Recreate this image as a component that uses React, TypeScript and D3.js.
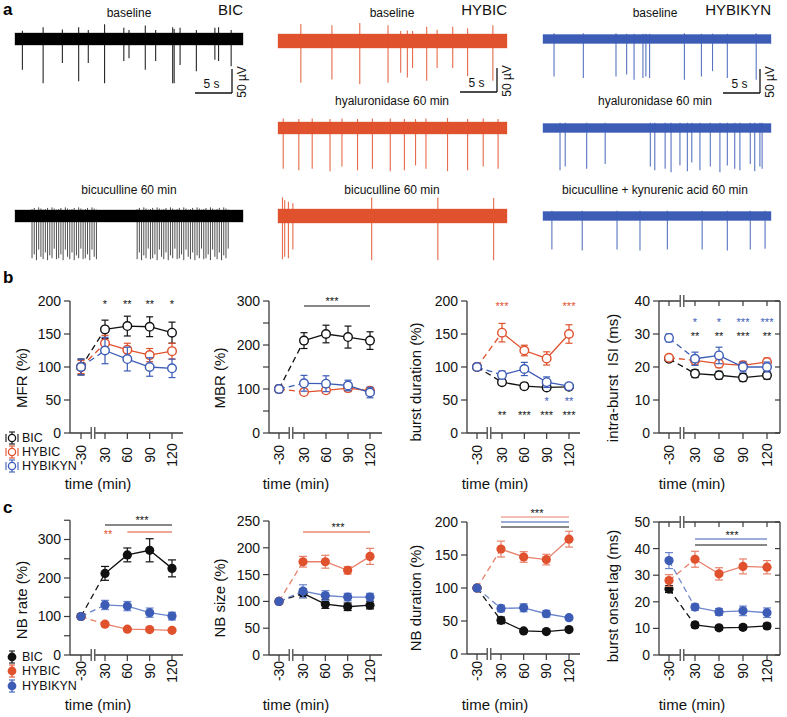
import React from 'react';
import * as d3 from 'd3';

const FONT = '"Liberation Sans", Arial, Helvetica, sans-serif';
const BLACK = '#111111';
const ORANGE = '#E0512D';
const ORANGE_LIGHT = '#E8806A';
const BLUE = '#3C5CB6';
const BLUE_LIGHT = '#6C86CC';
const AXIS = '#3a3a3a';

// ---------- shared x categories ----------
const times = [-30, 30, 60, 90, 120];
const timeTickLabels = ['-30', '30', '60', '90', '120'];
const groupNames = ['BIC', 'HYBIC', 'HYBIKYN'];

// ---------- panel b data ----------
const mfrBIC = [100, 157, 162, 161, 152];
const mfrBICErr = [12, 14, 15, 15, 16];
const mfrHYBIC = [100, 136, 126, 118, 124];
const mfrHYBICErr = [10, 12, 10, 10, 12];
const mfrKYN = [100, 125, 112, 100, 98];
const mfrKYNErr = [12, 20, 18, 14, 14];

const mbrBIC = [100, 210, 225, 218, 210];
const mbrBICErr = [8, 18, 20, 25, 20];
const mbrHYBIC = [100, 93, 97, 102, 96];
const mbrHYBICErr = [6, 5, 6, 8, 6];
const mbrKYN = [100, 113, 112, 108, 92];
const mbrKYNErr = [8, 18, 18, 12, 12];

const bdBIC = [100, 77, 71, 69, 70];
const bdBICErr = [4, 4, 5, 4, 3];
const bdHYBIC = [100, 152, 125, 113, 150];
const bdHYBICErr = [4, 14, 8, 10, 14];
const bdKYN = [100, 88, 97, 77, 71];
const bdKYNErr = [4, 6, 10, 8, 4];

const isiBIC = [22.5, 18, 17.5, 16.8, 17.5];
const isiBICErr = [0.8, 1.2, 1.2, 1.2, 1.2];
const isiHYBIC = [22.8, 22, 21, 20.5, 21.5];
const isiHYBICErr = [0.8, 1.3, 1.2, 1.2, 1.2];
const isiKYN = [28.8, 22.5, 23.5, 20, 20];
const isiKYNErr = [1.2, 2, 2.5, 1.5, 1.5];

// ---------- panel c data ----------
const nbrBIC = [100, 212, 260, 272, 225];
const nbrBICErr = [4, 18, 18, 30, 22];
const nbrHYBIC = [100, 80, 67, 66, 64];
const nbrHYBICErr = [3, 5, 4, 4, 4];
const nbrKYN = [100, 130, 127, 110, 101];
const nbrKYNErr = [4, 12, 12, 12, 10];

const nbsBIC = [100, 115, 95, 90, 93];
const nbsBICErr = [3, 8, 8, 7, 7];
const nbsHYBIC = [100, 174, 174, 158, 184];
const nbsHYBICErr = [3, 10, 12, 7, 15];
const nbsKYN = [100, 119, 111, 108, 108];
const nbsKYNErr = [3, 12, 9, 7, 7];

const nbdBIC = [100, 51, 35, 34, 37];
const nbdBICErr = [3, 5, 2, 2, 2];
const nbdHYBIC = [100, 159, 147, 143, 174];
const nbdHYBICErr = [3, 12, 8, 8, 12];
const nbdKYN = [100, 69, 70, 61, 55];
const nbdKYNErr = [3, 5, 6, 5, 3];

const bolBIC = [24.8, 11.3, 10.2, 10.4, 10.9];
const bolBICErr = [1.3, 1, 0.8, 0.8, 1];
const bolHYBIC = [28, 36, 30.5, 33.3, 33];
const bolHYBICErr = [2.2, 3, 2.3, 2.8, 2.5];
const bolKYN = [35.5, 18, 16.2, 16.6, 15.9];
const bolKYNErr = [3, 1.2, 1.3, 1.8, 1.8];

// ---------- panel a data: spikes [time s, downward µV, upward µV] ----------
const TRACE_SEC = 30.8;
const bicBaselineSpikes = [
  [1.0, 64, 8], [3.8, 92, 20], [6.4, 50, 12], [8.6, 88, 20], [9.9, 50, 10], [12.1, 92, 30],
  [14.7, 46, 18], [15.4, 40, 10], [17.6, 64, 26], [19.0, 46, 10], [21.3, 92, 20], [21.5, 92, 14],
  [22.3, 54, 18], [24.5, 67, 10], [27.0, 43, 18], [27.5, 46, 20], [29.2, 57, 10],
];
const bicBursts = [[2.3, 11.1], [16.5, 28.8]];
const burstDownPattern = [88, 80, 92, 70, 85, 90, 76, 92, 82, 88, 68, 90];
const burstUpPattern = [24, 28, 20, 30, 26, 22];
const hybicBaselineSpikes = [
  [3.07, 87, 35], [7.25, 80, 30], [11.0, 90, 38], [14.8, 87, 30], [16.5, 66, 10], [17.4, 76, 12],
  [18.1, 56, 10], [20.0, 83, 25], [21.4, 56, 15], [23.5, 56, 25], [25.5, 73, 20], [28.9, 83, 30],
];
const hybicHyalSpikes = [
  [0.7, 85, 12], [2.8, 88, 10], [4.6, 85, 12], [7.0, 90, 10], [8.6, 80, 12], [10.7, 88, 10],
  [12.7, 85, 12], [15.1, 90, 12], [17.0, 88, 10], [18.5, 78, 10], [19.9, 85, 12], [22.8, 90, 14],
  [25.5, 88, 10], [27.6, 80, 12], [29.6, 85, 10],
];
const hybicBicSpikes = [
  [0.6, 90, 40], [0.9, 85, 30], [1.4, 88, 25], [2.0, 70, 20], [12.6, 92, 40], [21.5, 92, 40], [29.0, 92, 38],
];
const kynBaselineSpikes = [
  [1.49, 78, 4], [5.45, 81, 4], [9.86, 78, 4], [11.3, 74, 3], [12.3, 85, 3], [13.5, 81, 3], [13.9, 78, 3],
  [14.4, 81, 3], [19.1, 85, 4], [21.4, 78, 3], [22.9, 67, 3], [24.9, 81, 3], [28.8, 85, 4],
];
const kynHyalSpikes = [
  [2.3, 88, 3], [3.0, 80, 3], [5.9, 85, 3], [8.4, 75, 3], [14.5, 80, 3], [15.1, 88, 3], [16.5, 85, 3],
  [17.3, 92, 3], [18.5, 78, 3], [19.5, 90, 3], [20.1, 72, 3], [21.2, 88, 3], [22.6, 80, 3], [23.9, 92, 3],
  [24.9, 78, 3], [25.9, 85, 3], [26.6, 88, 3], [28.0, 75, 3], [28.6, 90, 3], [29.3, 80, 3], [29.6, 85, 3],
];
const kynBicSpikes = [
  [1.2, 70, 3], [5.3, 72, 3], [10.0, 70, 3], [13.1, 72, 3], [16.8, 70, 3], [21.5, 70, 3], [24.9, 72, 3],
  [28.0, 70, 3], [30.0, 68, 3],
];

// ---------- trace layout ----------
const traces = [
  { x0: 15, x1: 243, yc: 39, half: 6, color: '#000', spikes: bicBaselineSpikes, bursts: [] },
  { x0: 15, x1: 243, yc: 216, half: 6, color: '#000', spikes: [], bursts: bicBursts },
  { x0: 278, x1: 507, yc: 41, half: 7, color: ORANGE, spikes: hybicBaselineSpikes, bursts: [] },
  { x0: 278, x1: 507, yc: 128, half: 6, color: ORANGE, spikes: hybicHyalSpikes, bursts: [] },
  { x0: 278, x1: 507, yc: 216, half: 7, color: ORANGE, spikes: hybicBicSpikes, bursts: [] },
  { x0: 543, x1: 771, yc: 39, half: 4.5, color: BLUE, spikes: kynBaselineSpikes, bursts: [] },
  { x0: 543, x1: 771, yc: 128, half: 4.5, color: BLUE, spikes: kynHyalSpikes, bursts: [] },
  { x0: 543, x1: 771, yc: 216, half: 4.5, color: BLUE, spikes: kynBicSpikes, bursts: [] },
];

const traceTexts = [
  { x: 129, y: 17, t: 'baseline' },
  { x: 392, y: 17, t: 'baseline' },
  { x: 655, y: 17, t: 'baseline' },
  { x: 392, y: 105, t: 'hyaluronidase 60 min' },
  { x: 655, y: 105, t: 'hyaluronidase 60 min' },
  { x: 129, y: 194, t: 'bicuculline 60 min' },
  { x: 392, y: 194, t: 'bicuculline 60 min' },
  { x: 655, y: 194, t: 'bicuculline + kynurenic acid 60 min' },
];
const columnTitles = [
  { x: 243, t: 'BIC' },
  { x: 507, t: 'HYBIC' },
  { x: 771, t: 'HYBIKYN' },
];
const scaleBars = [
  { xRight: 232, y: 93 },
  { xRight: 497, y: 92 },
  { xRight: 760, y: 93 },
];

function Trace({ t }: { t: any }) {
  const xs = d3.scaleLinear().domain([0, TRACE_SEC]).range([t.x0, t.x1]);
  const amp = d3.scaleLinear().domain([0, 50]).range([0, 24]);
  const burstLines: any[] = [];
  t.bursts.forEach(([s0, s1]: number[], bi: number) => {
    d3.range(s0, s1, 0.3).forEach((s: number, i: number) => {
      burstLines.push({ s, dn: burstDownPattern[(i + bi * 5) % burstDownPattern.length], up: burstUpPattern[i % burstUpPattern.length] });
    });
  });
  return (
    <g>
      <rect x={t.x0} y={t.yc - t.half} width={t.x1 - t.x0} height={2 * t.half} fill={t.color}
        stroke={t.color} strokeWidth={1} strokeOpacity={0.35} />
      {t.spikes.map((d: number[], i: number) => (
        <line key={i} x1={xs(d[0])} x2={xs(d[0])} y1={t.yc - t.half - amp(d[2]) * 0.6} y2={t.yc + amp(d[1])}
          stroke={t.color} strokeWidth={1.1} strokeOpacity={0.85} />
      ))}
      {burstLines.map((d, i) => (
        <line key={'b' + i} x1={xs(d.s)} x2={xs(d.s)} y1={t.yc - amp(d.up) * 0.6} y2={t.yc + amp(d.dn)}
          stroke={t.color} strokeWidth={1} strokeOpacity={0.7} />
      ))}
    </g>
  );
}

// ---------- plot configs ----------
const mk = (vals: number[], errs: number[], color: string, line: string) => ({ vals, errs, color, line });

const bPlots = [
  {
    ax: 70, xr: [81, 93, 105, 172], xEnd: 183, y0: 433, k: 0.66, ymax: 200, step: 50, labelEvery: 50, box: false,
    ylabel: 'MFR (%)', ylx: 22, yly: 378, timeX: 98,
    series: [mk(mfrBIC, mfrBICErr, BLACK, BLACK), mk(mfrHYBIC, mfrHYBICErr, ORANGE, ORANGE), mk(mfrKYN, mfrKYNErr, BLUE, BLUE)],
    stars: [{ t: 30, text: '*', y: 302, color: BLACK }, { t: 60, text: '**', y: 302, color: BLACK }, { t: 90, text: '**', y: 302, color: BLACK }, { t: 120, text: '*', y: 302, color: BLACK }],
    bars: [], starsFree: [],
  },
  {
    ax: 269, xr: [279, 291, 304, 370], xEnd: 382, y0: 433, k: 0.44, ymax: 300, step: 50, labelEvery: 100, box: false,
    ylabel: 'MBR (%)', ylx: 220, yly: 378, timeX: 296,
    series: [mk(mbrBIC, mbrBICErr, BLACK, BLACK), mk(mbrHYBIC, mbrHYBICErr, ORANGE, ORANGE), mk(mbrKYN, mbrKYNErr, BLUE, BLUE)],
    stars: [], bars: [{ t0: 30, t1: 120, y: 306, color: BLACK }],
    starsFree: [{ x: 332, y: 299, text: '***', color: BLACK }],
  },
  {
    ax: 467, xr: [477, 489, 502, 569], xEnd: 580, y0: 433, k: 0.66, ymax: 200, step: 50, labelEvery: 50, box: false,
    ylabel: 'burst duration (%)', ylx: 416, yly: 382, timeX: 495,
    series: [mk(bdBIC, bdBICErr, BLACK, BLACK), mk(bdHYBIC, bdHYBICErr, ORANGE, ORANGE), mk(bdKYN, bdKYNErr, BLUE, BLUE)],
    stars: [
      { t: 30, text: '***', y: 304, color: ORANGE }, { t: 120, text: '***', y: 304, color: ORANGE },
      { t: 30, text: '**', y: 413, color: BLACK }, { t: 60, text: '***', y: 413, color: BLACK }, { t: 90, text: '***', y: 413, color: BLACK }, { t: 120, text: '***', y: 413, color: BLACK },
      { t: 90, text: '*', y: 399, color: BLUE }, { t: 120, text: '**', y: 399, color: BLUE },
    ],
    bars: [], starsFree: [],
  },
  {
    ax: 659, xr: [669, 682, 695, 767], xEnd: 780, y0: 433, k: 3.3, ymax: 40, step: 10, labelEvery: 10, box: true,
    ylabel: 'intra-burst  ISI (ms)', ylx: 613, yly: 378, timeX: 692,
    series: [mk(isiBIC, isiBICErr, BLACK, BLACK), mk(isiHYBIC, isiHYBICErr, ORANGE, ORANGE), mk(isiKYN, isiKYNErr, BLUE, BLUE)],
    stars: [
      { t: 30, text: '*', y: 320, color: BLUE }, { t: 60, text: '*', y: 320, color: BLUE }, { t: 90, text: '***', y: 320, color: BLUE }, { t: 120, text: '***', y: 320, color: BLUE },
      { t: 30, text: '**', y: 334, color: BLACK }, { t: 60, text: '**', y: 334, color: BLACK }, { t: 90, text: '***', y: 334, color: BLACK }, { t: 120, text: '**', y: 334, color: BLACK },
    ],
    bars: [], starsFree: [],
  },
];

const cPlots = [
  {
    ax: 70, xr: [81, 93, 105, 172], xEnd: 183, y0: 655, k: 0.385, ymax: 350, step: 50, labelEvery: 100, box: false,
    ylabel: 'NB rate (%)', ylx: 22, yly: 600, timeX: 98,
    series: [mk(nbrBIC, nbrBICErr, BLACK, BLACK), mk(nbrHYBIC, nbrHYBICErr, ORANGE, ORANGE_LIGHT), mk(nbrKYN, nbrKYNErr, BLUE, BLUE_LIGHT)],
    stars: [],
    bars: [{ t0: 30, t1: 120, y: 525, color: BLACK }, { t0: 60, t1: 120, y: 532, color: ORANGE }],
    starsFree: [{ x: 142, y: 518, text: '***', color: BLACK }, { x: 108, y: 532, text: '**', color: ORANGE }],
  },
  {
    ax: 269, xr: [279, 291, 303, 370], xEnd: 382, y0: 655, k: 0.536, ymax: 250, step: 50, labelEvery: 50, box: false,
    ylabel: 'NB size (%)', ylx: 220, yly: 598, timeX: 296,
    series: [mk(nbsBIC, nbsBICErr, BLACK, BLACK), mk(nbsHYBIC, nbsHYBICErr, ORANGE, ORANGE_LIGHT), mk(nbsKYN, nbsKYNErr, BLUE, BLUE_LIGHT)],
    stars: [], bars: [{ t0: 30, t1: 120, y: 532, color: ORANGE }],
    starsFree: [{ x: 338, y: 525, text: '***', color: BLACK }],
  },
  {
    ax: 467, xr: [477, 489, 501, 569], xEnd: 580, y0: 654, k: 0.66, ymax: 200, step: 50, labelEvery: 50, box: false,
    ylabel: 'NB duration (%)', ylx: 416, yly: 598, timeX: 495,
    series: [mk(nbdBIC, nbdBICErr, BLACK, BLACK), mk(nbdHYBIC, nbdHYBICErr, ORANGE, ORANGE_LIGHT), mk(nbdKYN, nbdKYNErr, BLUE, BLUE_LIGHT)],
    stars: [],
    bars: [{ t0: 30, t1: 120, y: 517, color: ORANGE_LIGHT }, { t0: 30, t1: 120, y: 522, color: BLUE }, { t0: 30, t1: 120, y: 527, color: BLACK }],
    starsFree: [{ x: 537, y: 511, text: '***', color: BLACK }],
  },
  {
    ax: 659, xr: [669, 682, 695, 767], xEnd: 780, y0: 655, k: 2.66, ymax: 50, step: 10, labelEvery: 10, box: true,
    ylabel: 'burst onset lag (ms)', ylx: 613, yly: 596, timeX: 692,
    series: [mk(bolBIC, bolBICErr, BLACK, BLACK), mk(bolHYBIC, bolHYBICErr, ORANGE, ORANGE_LIGHT), mk(bolKYN, bolKYNErr, BLUE, BLUE_LIGHT)],
    stars: [],
    bars: [{ t0: 30, t1: 120, y: 539, color: BLUE }, { t0: 30, t1: 120, y: 545, color: BLACK }],
    starsFree: [{ x: 732, y: 533, text: '***', color: BLACK }],
  },
];

const STAR_SIZE = 11;

function BreakMark({ x, y }: { x: number; y: number }) {
  return (
    <g>
      <rect x={x - 2.2} y={y - 1.5} width={4.4} height={3} fill="#fff" />
      <line x1={x - 1.8} x2={x - 1.8} y1={y - 6} y2={y + 6} stroke={AXIS} strokeWidth={1.2} />
      <line x1={x + 1.8} x2={x + 1.8} y1={y - 6} y2={y + 6} stroke={AXIS} strokeWidth={1.2} />
    </g>
  );
}

function Plot({ c, filled, tickLabelY, timeY }: { c: any; filled: boolean; tickLabelY: number; timeY: number }) {
  const x = d3.scaleLinear().domain([-30, 0, 30, 120]).range(c.xr);
  const y = d3.scaleLinear().domain([0, c.ymax]).range([c.y0, c.y0 - c.ymax * c.k]);
  const yTop = y(c.ymax);
  const yTicks = d3.range(0, c.ymax + 0.001, c.step);
  const line = d3.line<[number, number]>().x((d) => x(d[0])).y((d) => y(d[1]));
  const brk = c.xr[1];
  const cap = filled ? 4 : 3.5;
  return (
    <g fontFamily={FONT}>
      {/* axes */}
      <line x1={c.ax} x2={c.ax} y1={c.y0} y2={yTop} stroke={AXIS} strokeWidth={1.3} />
      <line x1={c.ax} x2={c.xEnd} y1={c.y0} y2={c.y0} stroke={AXIS} strokeWidth={1.3} />
      {yTicks.map((v: number) => (
        <g key={v}>
          <line x1={c.ax - 6} x2={c.ax} y1={y(v)} y2={y(v)} stroke={AXIS} strokeWidth={1.2} />
          {Math.abs(v % c.labelEvery) < 1e-6 && (
            <text x={c.ax - 9} y={y(v)} dy="0.35em" textAnchor="end" fontSize={14} fill="#111">{v}</text>
          )}
          {c.box && <line x1={c.xEnd - 5} x2={c.xEnd} y1={y(v)} y2={y(v)} stroke={AXIS} strokeWidth={1.2} />}
        </g>
      ))}
      {times.map((t, i) => (
        <g key={t}>
          <line x1={x(t)} x2={x(t)} y1={c.y0} y2={c.y0 + 6} stroke={AXIS} strokeWidth={1.2} />
          {c.box && <line x1={x(t)} x2={x(t)} y1={yTop} y2={yTop + 5} stroke={AXIS} strokeWidth={1.2} />}
          <text transform={`translate(${x(t)},${tickLabelY}) rotate(-90)`} dy="0.35em" textAnchor="middle" fontSize={14} fill="#111">
            {timeTickLabels[i]}
          </text>
        </g>
      ))}
      {c.box && (
        <g>
          <line x1={c.ax} x2={c.xEnd} y1={yTop} y2={yTop} stroke={AXIS} strokeWidth={1.3} />
          <line x1={c.xEnd} x2={c.xEnd} y1={c.y0} y2={yTop} stroke={AXIS} strokeWidth={1.3} />
          <BreakMark x={brk} y={yTop} />
        </g>
      )}
      <BreakMark x={brk} y={c.y0} />
      {/* labels */}
      <text x={c.timeX} y={timeY} textAnchor="middle" fontSize={15} fill="#111">time (min)</text>
      <text transform={`translate(${c.ylx},${c.yly}) rotate(-90)`} dy="0.35em" textAnchor="middle" fontSize={15} fill="#111"
        style={{ whiteSpace: 'pre' }}>{c.ylabel}</text>
      {/* significance */}
      {c.bars.map((b: any, i: number) => (
        <line key={'bar' + i} x1={x(b.t0)} x2={x(b.t1)} y1={b.y} y2={b.y} stroke={b.color} strokeWidth={1.2} />
      ))}
      {c.stars.map((s: any, i: number) => (
        <text key={'s' + i} x={x(s.t)} y={s.y + STAR_SIZE * 0.58} textAnchor="middle" fontSize={STAR_SIZE} fill={s.color}>{s.text}</text>
      ))}
      {c.starsFree.map((s: any, i: number) => (
        <text key={'sf' + i} x={s.x} y={s.y + STAR_SIZE * 0.58} textAnchor="middle" fontSize={STAR_SIZE} fill={s.color}>{s.text}</text>
      ))}
      {/* series */}
      {c.series.map((s: any, si: number) => {
        const pts: [number, number][] = times.map((t, i) => [t, s.vals[i]]);
        return (
          <g key={si}>
            <path d={line(pts.slice(0, 2)) || ''} fill="none" stroke={s.line} strokeWidth={1.3} strokeDasharray="6,4" />
            <path d={line(pts.slice(1)) || ''} fill="none" stroke={s.line} strokeWidth={1.3} />
            {pts.map((p, i) => (
              <g key={i}>
                <line x1={x(p[0])} x2={x(p[0])} y1={y(p[1] - s.errs[i])} y2={y(p[1] + s.errs[i])} stroke={s.line} strokeWidth={1.2} />
                <line x1={x(p[0]) - cap} x2={x(p[0]) + cap} y1={y(p[1] - s.errs[i])} y2={y(p[1] - s.errs[i])} stroke={s.line} strokeWidth={1.2} />
                <line x1={x(p[0]) - cap} x2={x(p[0]) + cap} y1={y(p[1] + s.errs[i])} y2={y(p[1] + s.errs[i])} stroke={s.line} strokeWidth={1.2} />
                {filled ? (
                  <circle cx={x(p[0])} cy={y(p[1])} r={4.6} fill={s.color} />
                ) : (
                  <circle cx={x(p[0])} cy={y(p[1])} r={4.3} fill="#fff" stroke={s.color} strokeWidth={1.4} />
                )}
              </g>
            ))}
          </g>
        );
      })}
    </g>
  );
}

function Legend({ ys, filled, colors }: { ys: number[]; filled: boolean; colors: string[] }) {
  return (
    <g fontFamily={FONT}>
      {groupNames.map((n, i) => {
        const cy = ys[i];
        const col = colors[i];
        return (
          <g key={n}>
            <line x1={12} x2={12} y1={cy - 6} y2={cy + 6} stroke={col} strokeWidth={1.1} />
            <line x1={9} x2={15} y1={cy - 6} y2={cy - 6} stroke={col} strokeWidth={1.1} />
            <line x1={9} x2={15} y1={cy + 6} y2={cy + 6} stroke={col} strokeWidth={1.1} />
            {!filled && <line x1={6} x2={6} y1={cy - 4} y2={cy + 4} stroke={col} strokeWidth={1.1} />}
            {!filled && <line x1={18} x2={18} y1={cy - 4} y2={cy + 4} stroke={col} strokeWidth={1.1} />}
            {filled ? (
              <circle cx={12} cy={cy} r={4.4} fill={col} />
            ) : (
              <circle cx={12} cy={cy} r={3.6} fill="#fff" stroke={col} strokeWidth={1.3} />
            )}
            <text x={22} y={cy} dy="0.35em" fontSize={12.5} fill="#111">{n}</text>
          </g>
        );
      })}
    </g>
  );
}

export default function App() {
  const sbScale = d3.scaleLinear().domain([0, TRACE_SEC]).range([0, 228]);
  const ampScale = d3.scaleLinear().domain([0, 50]).range([0, 24]);
  return (
    <svg width={787} height={717} style={{ position: 'absolute', left: 0, top: 0, background: '#fff' }}
      fontFamily={FONT}>
      <rect x={0} y={0} width={787} height={717} fill="#fff" />
      {/* panel letters */}
      <text x={3} y={15} fontSize={17} fontWeight="bold">a</text>
      <text x={3} y={283} fontSize={17} fontWeight="bold">b</text>
      <text x={3} y={513} fontSize={17} fontWeight="bold">c</text>

      {/* panel a */}
      {traces.map((t, i) => <Trace key={i} t={t} />)}
      {traceTexts.map((t, i) => (
        <text key={i} x={t.x} y={t.y} textAnchor="middle" fontSize={12} fill="#111">{t.t}</text>
      ))}
      {columnTitles.map((t, i) => (
        <text key={i} x={t.x} y={15} textAnchor="end" fontSize={15} fill="#111">{t.t}</text>
      ))}
      {scaleBars.map((s, i) => {
        const w = sbScale(5);
        const h = ampScale(50);
        return (
          <g key={i}>
            <line x1={s.xRight - w} x2={s.xRight} y1={s.y} y2={s.y} stroke="#111" strokeWidth={1.3} />
            <line x1={s.xRight} x2={s.xRight} y1={s.y} y2={s.y - h} stroke="#111" strokeWidth={1.3} />
            <text x={s.xRight - w / 2 - 2} y={s.y - 5} textAnchor="middle" fontSize={12} fill="#111">5 s</text>
            <text transform={`translate(${s.xRight + 10},${s.y - 11}) rotate(-90)`} dy="0.35em" textAnchor="middle" fontSize={12} fill="#111">50 µV</text>
          </g>
        );
      })}

      {/* panel b */}
      {bPlots.map((c, i) => <Plot key={i} c={c} filled={false} tickLabelY={455} timeY={489} />)}
      <Legend ys={[438, 452, 466]} filled={false} colors={[BLACK, ORANGE, BLUE]} />

      {/* panel c */}
      {cPlots.map((c, i) => <Plot key={i} c={c} filled={true} tickLabelY={671} timeY={710} />)}
      <Legend ys={[657, 671, 686]} filled={true} colors={[BLACK, ORANGE, BLUE]} />
    </svg>
  );
}
